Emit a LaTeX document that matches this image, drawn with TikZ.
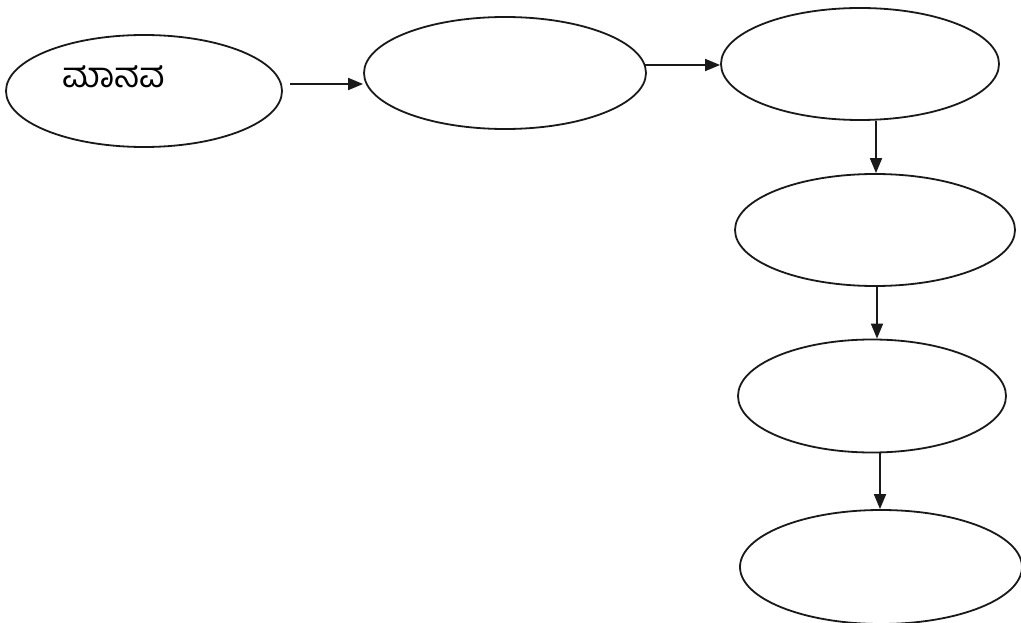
\documentclass[tikz,border=0pt]{standalone}
\usepackage{fontspec}
\newfontfamily\kn[Script=Kannada]{Hind Mysuru}
\usetikzlibrary{shapes.geometric,arrows.meta}
\tikzset{
  oval/.style={draw=black!90, line width=1.8pt, ellipse, inner sep=0pt, minimum width=#1},
  oval/.default=278pt,
  arr/.style={draw=black!90, line width=1.8pt, -{Triangle[length=15pt,width=12pt]}},
}
\begin{document}
\begin{tikzpicture}[x=1pt,y=-1pt]
\fill[white] (0,0) rectangle (1021,623);
\useasboundingbox (0,0) rectangle (1021,623);
\node[oval=276pt, minimum height=112pt] (e1) at (144,91) {};
\node[oval=282pt, minimum height=112pt] (e2) at (505,73) {};
\node[oval=278pt, minimum height=112pt] (e3) at (860,64) {};
\node[oval=280pt, minimum height=112pt] (e4) at (875,230) {};
\node[oval=268pt, minimum height=113pt] (e5) at (872,396) {};
\node[oval=282pt, minimum height=114pt] (e6) at (881,567) {};
\node[font=\kn\fontsize{35}{38}\selectfont, inner sep=0pt, anchor=center] (t1) at (114,77) {ಮಾನವ};
\coordinate (a1s) at (290,84);
\coordinate (a2s) at (645,65);
\draw[arr] (a1s) -- (a1s -| e2.west);
\draw[arr] (a2s) -- ([yshift=-1pt]e3.west);
\draw[arr] (e3.south -| 876,0) -- (e4.north -| 876,0);
\draw[arr] (e4.south -| 877,0) -- (e5.north -| 877,0);
\draw[arr] (e5.south -| 880,0) -- (e6.north -| 880,0);
\end{tikzpicture}
\end{document}
